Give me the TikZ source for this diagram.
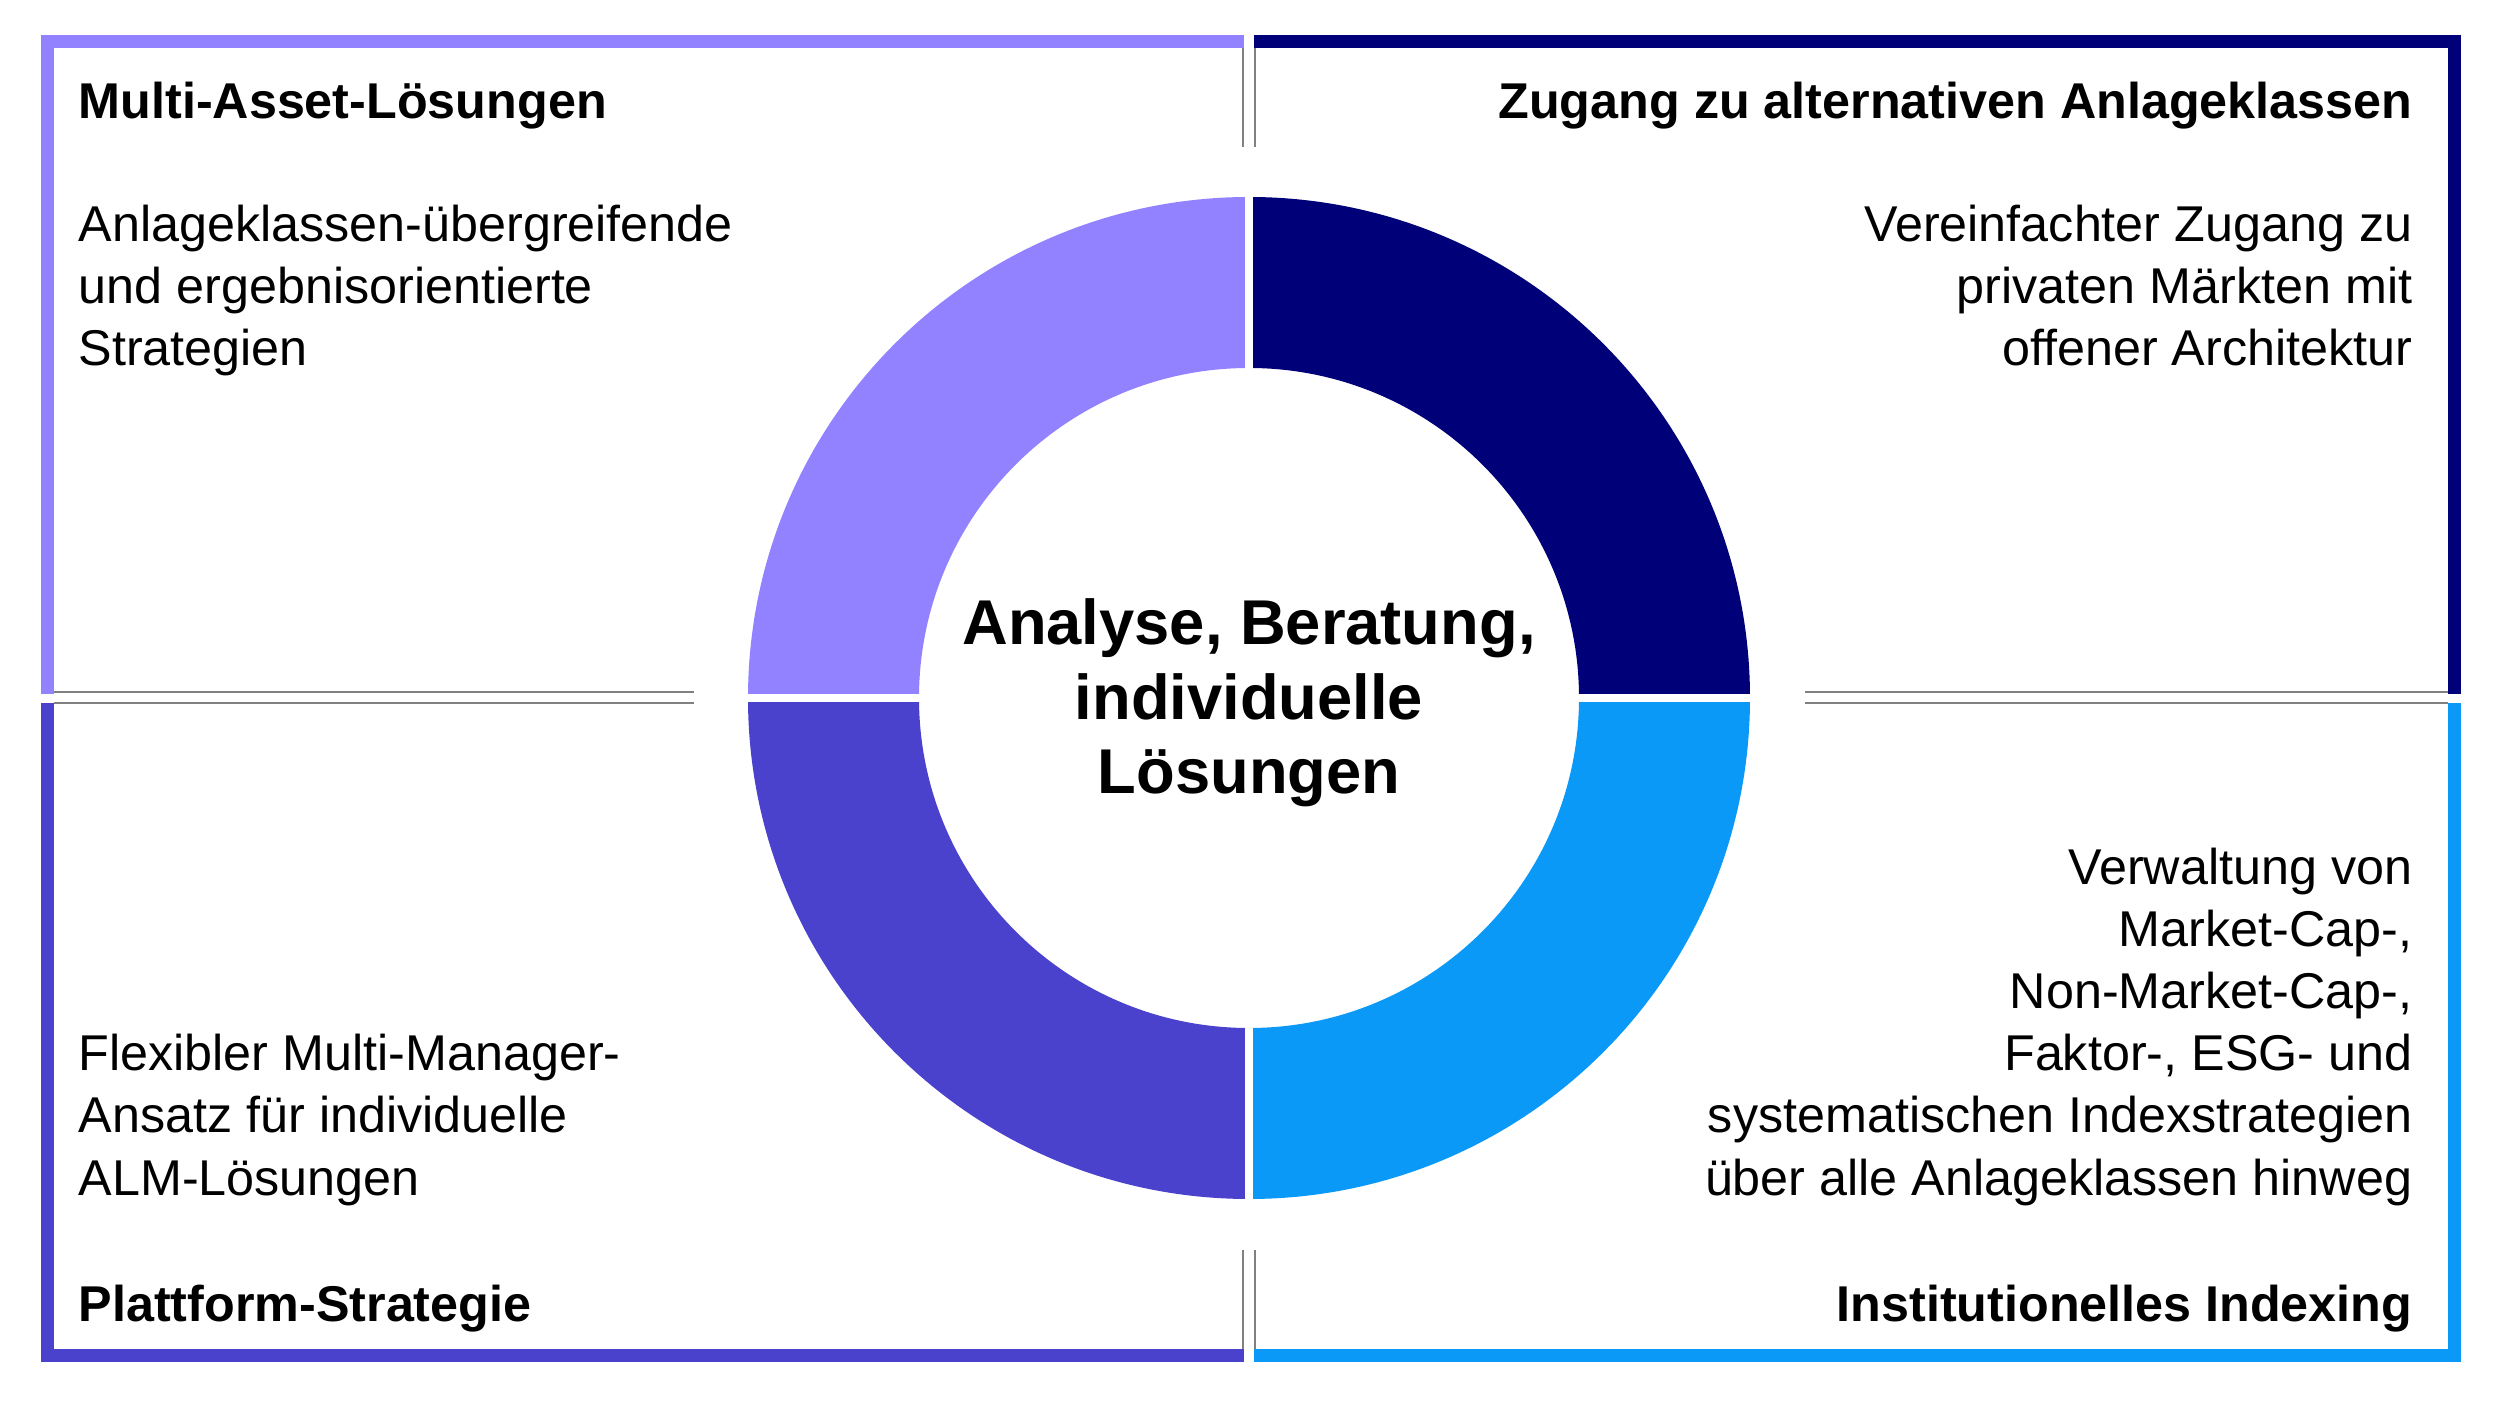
\documentclass[tikz,border=0pt]{standalone}
\usepackage{fontspec}
\setmainfont{Liberation Sans}
\definecolor{cA}{HTML}{9282FF}
\definecolor{cB}{HTML}{000078}
\definecolor{cC}{HTML}{4A41CC}
\definecolor{cD}{HTML}{0A99F7}
\definecolor{gr}{HTML}{808080}
\begin{document}
\begin{tikzpicture}[x=0.01cm,y=-0.01cm,
  body/.style={inner sep=0,font=\fontsize{14.3}{17.6}\selectfont},
  ttl/.style={inner sep=0,font=\fontsize{14.3}{17.6}\selectfont\bfseries},
  ctr/.style={inner sep=0,anchor=base,font=\fontsize{18}{21}\selectfont\bfseries},
  gline/.style={gr,line width=0.8pt}]
\useasboundingbox (0,0) rectangle (2496,1404);
% frame bands
\fill[cA] (41,35) rectangle (1244,48);
\fill[cA] (41,35) rectangle (54,694);
\fill[cB] (1254,35) rectangle (2461,48);
\fill[cB] (2448,35) rectangle (2461,694);
\fill[cC] (41,703) rectangle (54,1362);
\fill[cC] (41,1349) rectangle (1244,1362);
\fill[cD] (2448,703) rectangle (2461,1362);
\fill[cD] (1254,1349) rectangle (2461,1362);
% gray lines
\draw[gline] (1243,48) -- (1243,147);
\draw[gline] (1255,48) -- (1255,147);
\draw[gline] (1243,1250) -- (1243,1349);
\draw[gline] (1255,1250) -- (1255,1349);
\draw[gline] (54,692) -- (694,692);
\draw[gline] (54,703) -- (694,703);
\draw[gline] (1805,692) -- (2448,692);
\draw[gline] (1805,703) -- (2448,703);
% ring
\coordinate (c) at (1249,698);
\begin{scope}[shift={(c)}]
\fill[cB] (0:501) arc[start angle=0,end angle=-90,radius=501] -- (-90:330) arc[start angle=-90,end angle=0,radius=330] -- cycle;
\fill[cA] (180:501) arc[start angle=180,end angle=270,radius=501] -- (270:330) arc[start angle=270,end angle=180,radius=330] -- cycle;
\fill[cC] (180:501) arc[start angle=180,end angle=90,radius=501] -- (90:330) arc[start angle=90,end angle=180,radius=330] -- cycle;
\fill[cD] (0:501) arc[start angle=0,end angle=90,radius=501] -- (90:330) arc[start angle=90,end angle=0,radius=330] -- cycle;
\fill[white] (-4,-510) rectangle (4,510);
\fill[white] (-510,-4) rectangle (510,4);
\end{scope}
% center text
\node[ctr] (m1) at (1249,645) {Analyse, Beratung,};
\node[ctr] (m2) at (1249,720) {individuelle};
\node[ctr] (m3) at (1249,794) {Lösungen};
% titles
\node[ttl,anchor=base west] (t1) at (78,119) {Multi-Asset-Lösungen};
\node[ttl,anchor=base east] (t2) at (2413,119) {Zugang zu alternativen Anlageklassen};
\node[ttl,anchor=base west] (t3) at (78,1321) {Plattform-Strategie};
\node[ttl,anchor=base east] (t4) at (2413,1321) {Institutionelles Indexing};
% bodies
\node[body,anchor=base west] (a1) at (78,242) {Anlageklassen-übergreifende};
\node[body,anchor=base west] (a2) at (78,304) {und ergebnisorientierte};
\node[body,anchor=base west] (a3) at (78,366) {Strategien};
\node[body,anchor=base east] (b1) at (2413,242) {Vereinfachter Zugang zu};
\node[body,anchor=base east] (b2) at (2413,304) {privaten Märkten mit};
\node[body,anchor=base east] (b3) at (2413,366) {offener Architektur};
\node[body,anchor=base west] (c1) at (78,1071) {Flexibler Multi-Manager-};
\node[body,anchor=base west] (c2) at (78,1133) {Ansatz für individuelle};
\node[body,anchor=base west] (c3) at (78,1196) {ALM-Lösungen};
\node[body,anchor=base east] (d1) at (2413,885) {Verwaltung von};
\node[body,anchor=base east] (d2) at (2413,947) {Market-Cap-,};
\node[body,anchor=base east] (d3) at (2413,1009) {Non-Market-Cap-,};
\node[body,anchor=base east] (d4) at (2413,1071) {Faktor-, ESG- und};
\node[body,anchor=base east] (d5) at (2413,1133) {systematischen Indexstrategien};
\node[body,anchor=base east] (d6) at (2413,1196) {über alle Anlageklassen hinweg};
\end{tikzpicture}
\end{document}
